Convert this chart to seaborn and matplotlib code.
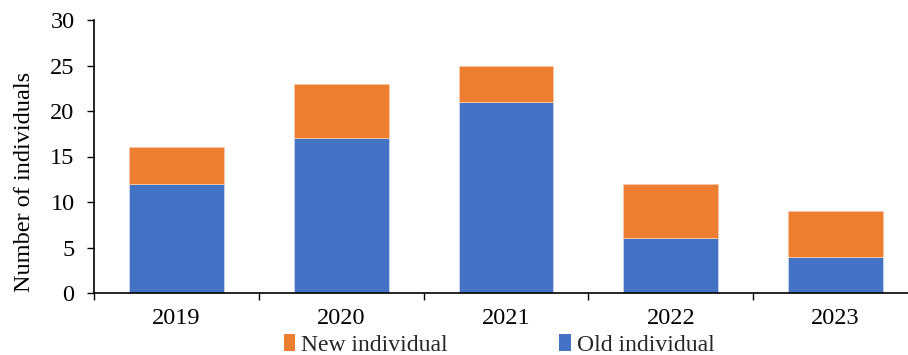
import matplotlib
matplotlib.use("Agg")
import matplotlib.pyplot as plt
import seaborn as sns
import pandas as pd
from matplotlib.patches import Patch
from matplotlib.ticker import FixedLocator

years = ["2019", "2020", "2021", "2022", "2023"]
old_individual = [12, 17, 21, 6, 4]
new_individual = [4, 6, 4, 6, 5]

sns.set_theme(style="white")
plt.rcParams['font.family'] = ['Liberation Serif', 'DejaVu Serif']

df = pd.DataFrame({"year": years, "old": old_individual, "new": new_individual})

fig = plt.figure(figsize=(9.08, 3.55), dpi=100)
ax = fig.add_axes([94/908, 1 - 293/355, (918-94)/908, (293-20)/355])

blue = "#4472C4"
orange = "#ED7D31"

sns.barplot(data=df, x="year", y="old", color=blue, saturation=1, width=0.576,
            edgecolor="#c9d6ee", linewidth=0.6, ax=ax)
sns.barplot(data=df, x="year", y="new", bottom=df["old"], color=orange, saturation=1,
            width=0.576, edgecolor="#f5c9a8", linewidth=0.6, ax=ax)

ax.set_xlim(-0.5, 4.5)
ax.set_ylim(0, 30)
ax.set_yticks([0, 5, 10, 15, 20, 25, 30])
ax.set_xlabel("")
ax.set_ylabel("Number of individuals", fontsize=17.5, color="black")
ax.yaxis.set_label_coords((35 - 94) / 824, (293 - 181.5) / 273)

for s in ["top", "right"]:
    ax.spines[s].set_visible(False)
for s in ["left", "bottom"]:
    ax.spines[s].set_color("black")
    ax.spines[s].set_linewidth(1.2)

ax.tick_params(axis="y", which="major", direction="out", length=5, width=1.0,
               color="black", labelsize=17.5, labelcolor="black", left=True, pad=9)
ax.tick_params(axis="x", which="major", length=0, labelsize=17.5, labelcolor="black", pad=11)
ax.xaxis.set_minor_locator(FixedLocator([-0.5, 0.5, 1.5, 2.5, 3.5, 4.5]))
ax.tick_params(axis="x", which="minor", direction="out", length=5, width=1.0,
               color="black", bottom=True)

handles = [Patch(facecolor=orange, edgecolor="none"),
           Patch(facecolor=blue, edgecolor="none")]
fig.legend(handles, ["New individual", "Old individual"], loc="center",
           bbox_to_anchor=(499/908, 1 - 345/355), ncol=2, frameon=False,
           fontsize=17, handlelength=0.5, handleheight=0.7, handletextpad=0.25,
           columnspacing=4.7, borderpad=0, borderaxespad=0)

fig.savefig("out.png", dpi=100)
